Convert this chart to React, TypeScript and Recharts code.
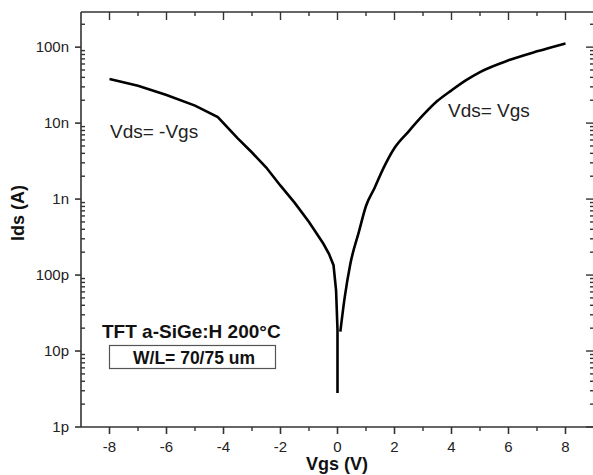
import { LineChart, Line, XAxis, YAxis, ReferenceLine, Customized } from "recharts";

// Vds = -Vgs branch (negative gate bias)
const leftVgs = [-8, -7, -6, -5, -4.2, -3.5, -3, -2.5, -2, -1.5, -1, -0.5, -0.3, -0.14, -0.05, 0, 0];
const leftIds = [
  3.8e-8, 3.1e-8, 2.35e-8, 1.7e-8, 1.2e-8, 6.3e-9, 4.1e-9, 2.6e-9, 1.5e-9, 8.9e-10, 5e-10, 2.6e-10,
  1.9e-10, 1.35e-10, 6.3e-11, 1.9e-11, 2.8e-12,
];

// Vds = Vgs branch (positive gate bias)
const rightVgs = [0.1, 0.25, 0.45, 0.75, 1, 1.3, 1.6, 2, 2.5, 3, 3.5, 4, 4.5, 5, 6, 7, 8];
const rightIds = [
  1.8e-11, 5e-11, 1.4e-10, 3.7e-10, 8.1e-10, 1.4e-9, 2.5e-9, 4.7e-9, 7.8e-9, 1.27e-8, 1.95e-8, 2.7e-8,
  3.65e-8, 4.7e-8, 6.7e-8, 8.8e-8, 1.12e-7,
];

const xTicks = [-8, -7, -6, -5, -4, -3, -2, -1, 0, 1, 2, 3, 4, 5, 6, 7, 8];
const decadeLabels = ["1p", "10p", "100p", "1n", "10n", "100n"];
const decades = [-12, -11, -10, -9, -8, -7];
const minorMult = [2, 3, 4, 5, 6, 7, 8, 9];
const X_DOMAIN = [-9, 9];
const Y_DOMAIN = [1e-12, 2.9e-7];

const leftData = leftVgs.map((v, i) => ({ vgs: v, ids: leftIds[i] }));
const rightData = rightVgs.map((v, i) => ({ vgs: v, ids: rightIds[i] }));

const yTicks: number[] = [];
decades.forEach((d) => {
  yTicks.push(Number(Math.pow(10, d).toPrecision(3)));
  minorMult.forEach((m) => {
    const v = Number((m * Math.pow(10, d)).toPrecision(3));
    if (v <= Y_DOMAIN[1]) yTicks.push(v);
  });
});

// chart box
const W = 594;
const H = 475;
const LEFT_W = 81;
const BOTTOM_H = 48;
const TOP_M = 12;
const PLOT_W = W - LEFT_W;
const PLOT_H = H - BOTTOM_H - TOP_M;

const FONT = "Liberation Sans, Arial, sans-serif";
const INK = "#333";

const isMajorY = (v: number) => {
  const l = Math.log10(v);
  return Math.abs(l - Math.round(l)) < 1e-6;
};
const yLabel = (v: number) => decadeLabels[decades.indexOf(Math.round(Math.log10(v)))];

// left ticks + mirrored ticks on the right frame
function LeftTick({ x, y, payload }: any) {
  const v = payload.value;
  const rx = x + PLOT_W;
  if (isMajorY(v)) {
    return (
      <g>
        <line x1={x - 6} x2={x} y1={y} y2={y} stroke={INK} strokeWidth={1.6} />
        <line x1={rx - 8} x2={rx} y1={y} y2={y} stroke={INK} strokeWidth={1.4} />
        <text x={x - 12} y={y + 5} textAnchor="end" fontSize={15} fontFamily={FONT} fill="#222">
          {yLabel(v)}
        </text>
      </g>
    );
  }
  return (
    <g>
      <line x1={x} x2={x + 4} y1={y} y2={y} stroke={INK} strokeWidth={1.4} />
      <line x1={rx - 4} x2={rx} y1={y} y2={y} stroke={INK} strokeWidth={1.4} />
    </g>
  );
}

// bottom ticks + mirrored ticks on the top frame
function BottomTick({ x, y, payload }: any) {
  const v = payload.value;
  const ty = y - PLOT_H;
  if (v % 2 === 0) {
    return (
      <g>
        <line x1={x} x2={x} y1={y} y2={y + 7} stroke={INK} strokeWidth={1.6} />
        <line x1={x} x2={x} y1={ty} y2={ty + 8} stroke={INK} strokeWidth={1.4} />
        <text x={x} y={y + 25} textAnchor="middle" fontSize={15} fontFamily={FONT} fill="#222">
          {v}
        </text>
      </g>
    );
  }
  return (
    <g>
      <line x1={x} x2={x} y1={y} y2={y + 4} stroke={INK} strokeWidth={1.4} />
      <line x1={x} x2={x} y1={ty} y2={ty + 4} stroke={INK} strokeWidth={1.4} />
    </g>
  );
}

// annotations and axis titles, drawn inside the chart svg
function Notes() {
  return (
    <g fontFamily={FONT} style={{ pointerEvents: "none" }}>
      <text x={110} y={138} fontSize={19} fill="#222">Vds= -Vgs</text>
      <text x={448} y={117} fontSize={19} fill="#222">Vds= Vgs</text>
      <text x={102} y={338} fontSize={19} fontWeight="bold" fill="#111">TFT a-SiGe:H 200°C</text>
      <rect x={109.5} y={345.5} width={166} height={23} fill="none" stroke="#555" strokeWidth={1.2} />
      <text x={133} y={364} fontSize={17.5} fontWeight="bold" fill="#111">W/L= 70/75 um</text>
      <text x={337} y={470} fontSize={18} fontWeight="bold" fill="#111" textAnchor="middle">Vgs (V)</text>
      <text x={24} y={213} fontSize={18} fontWeight="bold" fill="#111" textAnchor="middle" transform="rotate(-90, 24, 213)">
        Ids (A)
      </text>
    </g>
  );
}

export default function App() {
  return (
    <div style={{ position: "absolute", left: 0, top: 0, width: 593, height: 475, overflow: "hidden", background: "#fff" }}>
      <LineChart width={W} height={H} margin={{ top: TOP_M, right: 0, bottom: 0, left: 0 }}>
        <XAxis
          xAxisId="bottom"
          dataKey="vgs"
          type="number"
          domain={X_DOMAIN}
          ticks={xTicks}
          interval={0}
          height={BOTTOM_H}
          tickSize={0}
          tickMargin={0}
          tick={<BottomTick />}
          axisLine={{ stroke: INK, strokeWidth: 1.6 }}
          allowDataOverflow
        />
        <YAxis
          yAxisId="left"
          dataKey="ids"
          scale="log"
          type="number"
          domain={Y_DOMAIN}
          ticks={yTicks}
          interval={0}
          width={LEFT_W}
          tickSize={0}
          tickMargin={0}
          tick={<LeftTick />}
          axisLine={{ stroke: INK, strokeWidth: 1.6 }}
          allowDataOverflow
        />
        <ReferenceLine xAxisId="bottom" yAxisId="left" y={Y_DOMAIN[1]} stroke={INK} strokeWidth={1.6} />
        <ReferenceLine xAxisId="bottom" yAxisId="left" x={X_DOMAIN[1]} stroke={INK} strokeWidth={1.6} />
        <Line
          xAxisId="bottom"
          yAxisId="left"
          data={leftData}
          dataKey="ids"
          type="linear"
          stroke="#000"
          strokeWidth={2.6}
          dot={false}
          isAnimationActive={false}
        />
        <Line
          xAxisId="bottom"
          yAxisId="left"
          data={rightData}
          dataKey="ids"
          type="monotone"
          stroke="#000"
          strokeWidth={2.6}
          dot={false}
          isAnimationActive={false}
        />
        <Customized component={Notes} />
      </LineChart>
    </div>
  );
}
